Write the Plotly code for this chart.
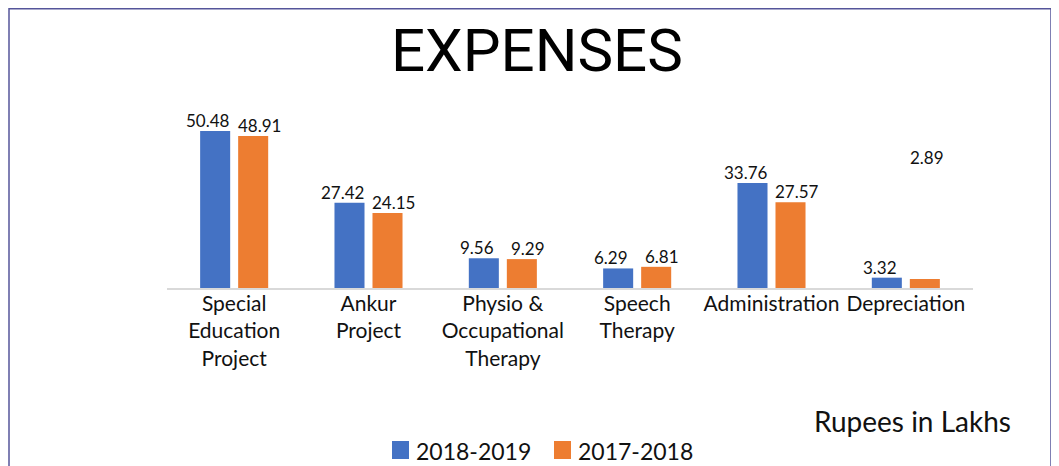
import plotly.graph_objects as go

categories = ["Special<br>Education<br>Project", "Ankur<br>Project",
              "Physio &<br>Occupational<br>Therapy", "Speech<br>Therapy",
              "Administration", "Depreciation"]
series_names = ["2018-2019", "2017-2018"]
values_2018_19 = [50.48, 27.42, 9.56, 6.29, 33.76, 3.32]
values_2017_18 = [48.91, 24.15, 9.29, 6.81, 27.57, 2.89]
colors = ["#4472C4", "#ED7D31"]

# page body has an 8px margin, so the figure is 8px smaller than the window
W, H = 1051, 458
L, R, T, B = 159, 86, 92, 178
pw, ph = W - L - R, H - T - B
ppu = 3.11
ymax = ph / ppu

LABEL_FONT = "Lato, Open Sans, sans-serif"
TXT = "#111111"


def px_x(px):
    return (px - L) / pw


def px_y(py):
    return (H - B - py) / ph


fig = go.Figure()
for name, vals, col in [(series_names[0], values_2018_19, colors[0]),
                        (series_names[1], values_2017_18, colors[1])]:
    fig.add_trace(go.Bar(
        x=categories, y=vals, name=name, showlegend=False,
        marker=dict(color=col, line=dict(width=0)),
    ))

# data labels (slightly pushed outward, like the reference)
for i, cat in enumerate(categories):
    fig.add_annotation(x=cat, y=values_2018_19[i], xref="x", yref="y",
                       text=f"{values_2018_19[i]:.2f}", showarrow=False,
                       xshift=-26, yanchor="bottom", yshift=-2,
                       font=dict(family=LABEL_FONT, size=17, color=TXT))
    if i < len(categories) - 1:
        fig.add_annotation(x=cat, y=values_2017_18[i], xref="x", yref="y",
                           text=f"{values_2017_18[i]:.2f}", showarrow=False,
                           xshift=25, yanchor="bottom", yshift=-2,
                           font=dict(family=LABEL_FONT, size=17, color=TXT))
# last orange label sits high above its bar in the reference
fig.add_annotation(x=categories[-1], y=px_y(149), xref="x", yref="paper",
                   text=f"{values_2017_18[-1]:.2f}", showarrow=False, xshift=21,
                   yanchor="middle",
                   font=dict(family=LABEL_FONT, size=17, color=TXT))

# title
fig.add_annotation(x=px_x(529), y=px_y(43), xref="paper", yref="paper", text="EXPENSES",
                   showarrow=False, xanchor="center", yanchor="middle",
                   font=dict(family="Roboto, Liberation Sans, sans-serif",
                             size=60, color="#000000"))
# unit note
fig.add_annotation(x=px_x(1005), y=px_y(413), xref="paper", yref="paper", text="Rupees in Lakhs",
                   showarrow=False, xanchor="right", yanchor="middle",
                   font=dict(family=LABEL_FONT, size=28, color=TXT))

# legend
leg_x = [384, 546]
for name, col, lx in zip(series_names, colors, leg_x):
    fig.add_shape(type="rect", xref="paper", yref="paper",
                  x0=px_x(lx), x1=px_x(lx + 17), y0=px_y(451), y1=px_y(433),
                  line=dict(width=0), fillcolor=col)
    fig.add_annotation(x=px_x(lx + 22), y=px_y(443), xref="paper", yref="paper", text=name,
                       showarrow=False, xanchor="left", yanchor="middle",
                       font=dict(family=LABEL_FONT, size=23, color=TXT))

# outer frame
fig.add_shape(type="rect", xref="paper", yref="paper",
              x0=px_x(1), x1=px_x(1043), y0=px_y(470), y1=px_y(0.75),
              line=dict(color="#55559a", width=1.5), fillcolor="rgba(0,0,0,0)", layer="below")

fig.update_layout(
    width=W, height=H, margin=dict(l=L, r=R, t=T, b=B, autoexpand=False),
    paper_bgcolor="white", plot_bgcolor="white",
    barmode="group", bargap=0.434, bargroupgap=0.21,
    showlegend=False,
    xaxis=dict(showline=True, linecolor="#D9D9D9", linewidth=1.5, ticks="", automargin=False,
               ticklabelstandoff=-4, tickangle=0,
               tickfont=dict(family=LABEL_FONT, size=21, color=TXT), showgrid=False),
    yaxis=dict(range=[0, ymax], visible=False, showgrid=False, zeroline=False, automargin=False),
)

fig.write_html("out.html")
